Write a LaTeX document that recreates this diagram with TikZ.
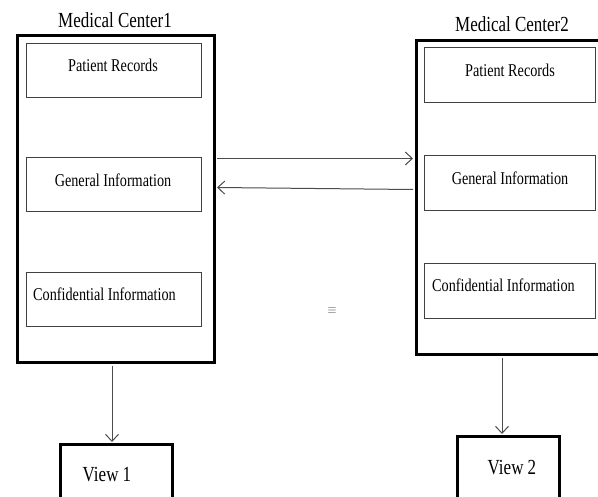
\documentclass[tikz,border=0pt]{standalone}
\usepackage{fontspec}
\setmainfont{Liberation Serif}[FakeStretch=0.79]
\usetikzlibrary{arrows.meta,calc}
\begin{document}
\begin{tikzpicture}[x=1pt,y=-1pt,
  bigbox/.style={draw=black,line width=3pt,anchor=north west,inner sep=0pt},
  infobox/.style={draw=black!75,line width=1.1pt,anchor=north west,inner sep=0pt},
  viewbox/.style={draw=black,line width=3pt,anchor=north west,inner sep=0pt},
  lbl/.style={font=\fontsize{18}{20}\selectfont,inner sep=0pt},
  title/.style={font=\fontsize{21.5}{24}\selectfont,inner sep=0pt},
  conn/.style={draw=black!70,line width=1pt,-{Straight Barb[length=7pt,width=13pt,line width=1pt]}}]
\useasboundingbox (0,0) rectangle (598,497);
% big boxes
\node[bigbox,minimum width=197pt,minimum height=327pt] (L) at (15.5,34.5) {};
\node[bigbox,minimum width=200pt,minimum height=314pt] (R) at (414.5,39.5) {};
% titles
\node[title] (t1) at (115,20) {Medical Center1};
\node[title] (t2) at (512,24) {Medical Center2};
% inner boxes left
\node[infobox,minimum width=175pt,minimum height=54pt] (lp) at (26,43) {};
\node[infobox,minimum width=175pt,minimum height=54pt] (lg) at (26,157) {};
\node[infobox,minimum width=175pt,minimum height=54pt] (lc) at (26,272) {};
\node[lbl] (lpt) at (113,65) {Patient Records};
\node[lbl] (lgt) at (113,180) {General Information};
\node[lbl,anchor=west] (lct) at (33,294) {Confidential Information};
% inner boxes right
\node[infobox,minimum width=171pt,minimum height=55pt] (rp) at (424,47) {};
\node[infobox,minimum width=171pt,minimum height=55pt] (rg) at (424,155) {};
\node[infobox,minimum width=171pt,minimum height=55pt] (rc) at (424,263) {};
\node[lbl] (rpt) at (510,70) {Patient Records};
\node[lbl] (rgt) at (510,178) {General Information};
\node[lbl,anchor=west] (rct) at (432,285) {Confidential Information};
% views
\node[viewbox,minimum width=112pt,minimum height=80pt] (v1) at (58.5,443.5) {};
\node[viewbox,minimum width=102pt,minimum height=80pt] (v2) at (455.5,435.5) {};
\node[title] (v1t) at (107,475) {View 1};
\node[title] (v2t) at (512,468) {View 2};
% symbol
\node[text=black!75,inner sep=0pt,font=\fontsize{13}{14}\selectfont] (eq) at (332,311) {$\equiv$};
% connectors
\coordinate (a1) at ($(L.north east)+(1.5,124)$);
\coordinate (a2) at ($(R.north west)+(-1.5,119)$);
\draw[conn] (a1) -- (a2);
\coordinate (b1) at ($(R.north west)+(-1.5,150)$);
\coordinate (b2) at ($(L.north east)+(1.5,153)$);
\draw[conn] (b1) -- (b2);
\draw[conn] ($(L.south west)+(96.5,1.5)$) -- ($(v1.north west)+(53.5,-1.5)$);
\draw[conn] ($(R.south west)+(87.5,1.5)$) -- ($(v2.north west)+(46.5,-1.5)$);
\end{tikzpicture}
\end{document}
